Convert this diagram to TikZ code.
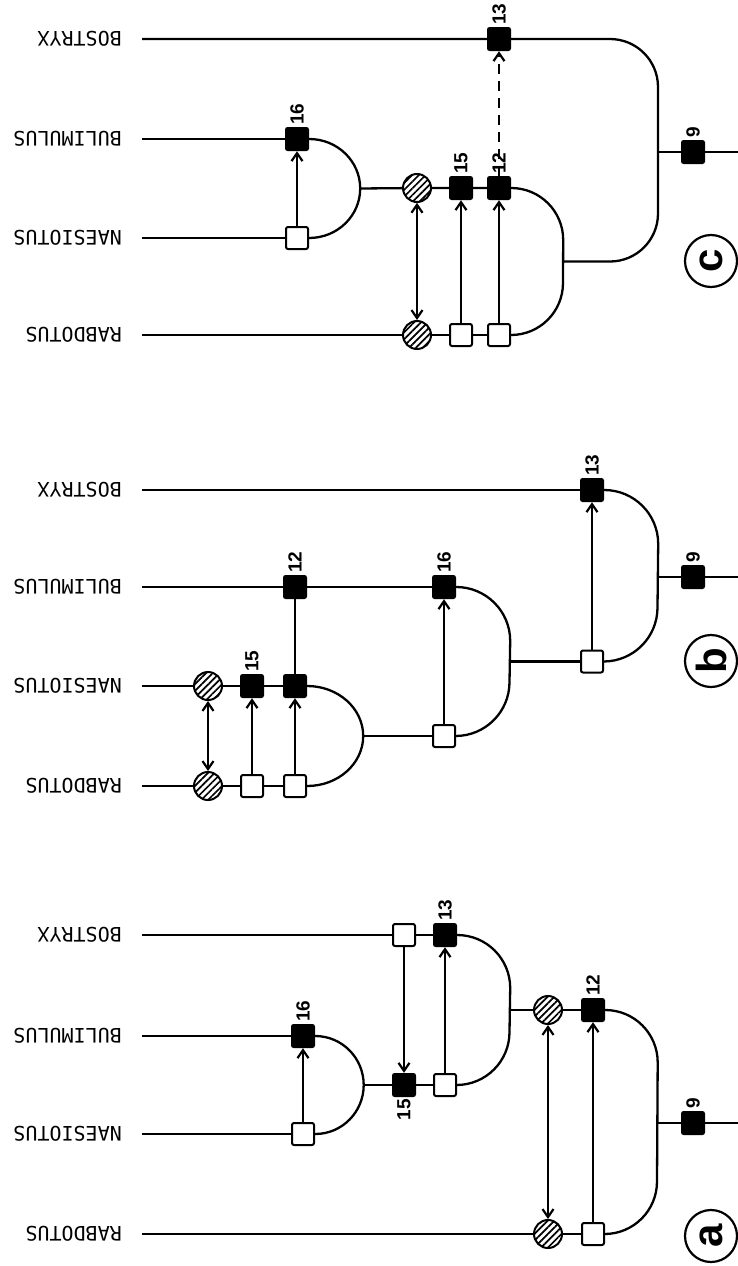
\documentclass[tikz,border=0pt]{standalone}
\usepackage{fontspec}
\newfontfamily\taxfont{DejaVu Sans Mono}
\newfontfamily\numfont{Liberation Sans}
\usetikzlibrary{arrows.meta,patterns.meta}
\begin{document}
\begin{tikzpicture}[x=1pt,y=-1pt,
  ln/.style={line width=2.3pt},
  tip/.tip={Straight Barb[length=8pt,width=11pt,line width=2.2pt]},
  arr/.style={line width=2.2pt,-tip},
  darr/.style={line width=2.2pt,tip-tip},
  dasharr/.style={arr,dash pattern=on 10pt off 7pt},
  fsq/.style={rectangle,fill=black,minimum size=24pt,inner sep=0pt,rounded corners=2.5pt},
  osq/.style={rectangle,draw=black,fill=white,line width=2pt,minimum size=22pt,inner sep=0pt,rounded corners=2pt},
  hat/.style={circle,draw=black,line width=2pt,minimum size=28pt,inner sep=0pt,
    preaction={fill=white},pattern={Lines[angle=45,distance=4.8pt,line width=1.7pt]}},
  tax/.style={rotate=180,anchor=west,inner sep=0pt,font=\taxfont\fontsize{20}{20}\selectfont},
  num/.style={rotate=90,anchor=west,inner sep=0pt,font=\numfont\bfseries\fontsize{19}{19}\selectfont},
  numb/.style={num,anchor=east},
  letter/.style={circle,draw=black,line width=2.2pt,minimum size=52pt,inner sep=0pt,rotate=90,
    font=\numfont\bfseries\fontsize{42}{42}\selectfont}
]
\useasboundingbox (0,0) rectangle (738,1266);
\fill[white] (0,0) rectangle (738,1266);

% ================= panel c =================
\node[tax] (cLB) at (122,39) {BOSTRYX};
\node[tax] (cLU) at (122,139) {BULIMULUS};
\node[tax] (cLN) at (122,238) {NAESIOTUS};
\node[tax] (cLR) at (122,335) {RABDOTUS};
\coordinate (cB0) at (142,39);
\coordinate (cU0) at (142,139);
\coordinate (cN0) at (142,238);
\coordinate (cR0) at (142,335);

\node[fsq] (cB13) at (499,39) {};
\node[fsq] (c16) at (297,139) {};
\node[osq] (cNo) at (297,238) {};
\node[hat] (ch1) at (417,188) {};
\node[fsq] (c15) at (461,188) {};
\node[fsq] (c12) at (499,188) {};
\node[hat] (cRh) at (417,335) {};
\node[osq] (cRo1) at (461,335) {};
\node[osq] (cRo2) at (499,335) {};
\node[fsq] (c9) at (693,152) {};
\coordinate (cj1) at (359.5,188.5);
\coordinate (cj2) at (562.5,261.5);
\coordinate (cj3) at (658,152);
\coordinate (cE) at (738,152);

\draw[ln] (cU0) -- (c16);
\draw[ln] (cN0) -- (cNo);
\draw[ln] (c16.east) arc[start angle=-90,end angle=90,x radius=51,y radius=49.5] -- (cNo.east);
\draw[ln] (cj1) -- (ch1) -- (c15) -- (c12);
\draw[ln] (cR0) -- (cRh) -- (cRo1) -- (cRo2);
\draw[ln] (c12.east) arc[start angle=-90,end angle=0,radius=52] -- (563,283) arc[start angle=0,end angle=90,radius=52] -- (cRo2.east);
\draw[ln] (cB0) -- (cB13) -- (610,39) arc[start angle=-90,end angle=0,radius=48] -- (658,213.5) arc[start angle=0,end angle=90,radius=48] -- (cj2);
\draw[ln] (cj3) -- (c9) -- (cE);

\draw[arr] (cNo) -- (c16);
\draw[darr] (ch1) -- (cRh);
\draw[arr] (cRo1) -- (c15);
\draw[arr] (cRo2) -- (c12);
\draw[dasharr] (c12) -- (cB13);

\node[num] (tc13) at (499,25) {13};
\node[num] (tc16) at (297,125) {16};
\node[num] (tc15) at (461,174) {15};
\node[num] (tc12) at (499,174) {12};
\node[num] (tc9) at (693,138) {9};
\node[letter] (lc) at (711,261) {c};

% ================= panel b =================
\node[tax] (bLB) at (122,490) {BOSTRYX};
\node[tax] (bLU) at (122,587) {BULIMULUS};
\node[tax] (bLN) at (122,686) {NAESIOTUS};
\node[tax] (bLR) at (122,786) {RABDOTUS};
\coordinate (bB0) at (142,490);
\coordinate (bU0) at (142,587);
\coordinate (bN0) at (142,686);
\coordinate (bR0) at (142,786);

\node[fsq] (b12) at (295,587) {};
\node[fsq] (b16) at (444,587) {};
\node[hat] (bNh) at (208,686) {};
\node[fsq] (b15) at (252,686) {};
\node[fsq] (bNf) at (295,686) {};
\node[hat] (bRh) at (208,786) {};
\node[osq] (bRo1) at (252,786) {};
\node[osq] (bRo2) at (295,786) {};
\node[osq] (bo) at (444,736) {};
\node[fsq] (b13) at (592,490) {};
\node[osq] (bo2) at (592,661.5) {};
\node[fsq] (b9) at (693,577) {};
\coordinate (bj1) at (361.5,736);
\coordinate (bj2) at (509.5,661.5);
\coordinate (bj3) at (657.5,577);
\coordinate (bE) at (738,577);

\draw[ln] (bU0) -- (b12) -- (b16);
\draw[ln] (bN0) -- (bNh) -- (b15) -- (bNf);
\draw[ln] (bR0) -- (bRh) -- (bRo1) -- (bRo2);
\draw[ln] (bNf.east) arc[start angle=-90,end angle=90,x radius=56,y radius=50] -- (bRo2.east);
\draw[ln] (bj1) -- (bo);
\draw[ln] (b16.east) arc[start angle=-90,end angle=0,radius=54] -- (509.5,682) arc[start angle=0,end angle=90,radius=54] -- (bo.east);
\draw[ln] (bj2) -- (bo2);
\draw[ln] (bB0) -- (b13);
\draw[ln] (b13.east) arc[start angle=-90,end angle=0,radius=54] -- (657.5,607.5) arc[start angle=0,end angle=90,radius=54] -- (bo2.east);
\draw[ln] (bj3) -- (b9) -- (bE);

\draw[darr] (bNh) -- (bRh);
\draw[arr] (bRo1) -- (b15);
\draw[arr] (bRo2) -- (bNf);
\draw[ln] (bNf) -- (b12);
\draw[arr] (bo) -- (b16);
\draw[arr] (bo2) -- (b13);

\node[num] (tb12) at (295,573) {12};
\node[num] (tb16) at (444,573) {16};
\node[num] (tb15) at (252,672) {15};
\node[num] (tb13) at (592,476) {13};
\node[num] (tb9) at (693,563) {9};
\node[letter] (lb) at (711,661) {b};

% ================= panel a =================
\node[tax] (aLB) at (122,935) {BOSTRYX};
\node[tax] (aLU) at (122,1036) {BULIMULUS};
\node[tax] (aLN) at (122,1134) {NAESIOTUS};
\node[tax] (aLR) at (122,1234) {RABDOTUS};
\coordinate (aB0) at (142,935);
\coordinate (aU0) at (142,1036);
\coordinate (aN0) at (142,1134);
\coordinate (aR0) at (142,1234);

\node[fsq] (a16) at (303,1036) {};
\node[osq] (aNo) at (303,1134) {};
\node[fsq] (a15) at (404,1085) {};
\node[osq] (ao) at (445,1085) {};
\node[osq] (aBo) at (404,935) {};
\node[fsq] (a13) at (445,935) {};
\node[hat] (ah1) at (548,1010) {};
\node[fsq] (a12) at (593,1010) {};
\node[hat] (aRh) at (548,1234) {};
\node[osq] (aRo) at (593,1234) {};
\node[fsq] (a9) at (693,1123) {};
\coordinate (aj1) at (363,1085);
\coordinate (aj2) at (509.5,1010);
\coordinate (aj3) at (657,1123);
\coordinate (aE) at (738,1123);

\draw[ln] (aU0) -- (a16);
\draw[ln] (aN0) -- (aNo);
\draw[ln] (a16.east) arc[start angle=-90,end angle=90,x radius=48.5,y radius=49] -- (aNo.east);
\draw[ln] (aj1) -- (a15) -- (ao);
\draw[ln] (aB0) -- (aBo) -- (a13);
\draw[ln] (a13.east) arc[start angle=-90,end angle=0,radius=53] -- (509.5,1032) arc[start angle=0,end angle=90,radius=53] -- (ao.east);
\draw[ln] (aj2) -- (ah1) -- (a12);
\draw[ln] (aR0) -- (aRh) -- (aRo);
\draw[ln] (a12.east) arc[start angle=-90,end angle=0,radius=52.5] -- (657,1181.5) arc[start angle=0,end angle=90,radius=52.5] -- (aRo.east);
\draw[ln] (aj3) -- (a9) -- (aE);

\draw[arr] (aNo) -- (a16);
\draw[arr] (aBo) -- (a15);
\draw[arr] (ao) -- (a13);
\draw[darr] (ah1) -- (aRh);
\draw[arr] (aRo) -- (a12);

\node[num] (ta16) at (303,1022) {16};
\node[num] (ta13) at (445,921) {13};
\node[numb] (ta15) at (404,1099) {15};
\node[num] (ta12) at (593,996) {12};
\node[num] (ta9) at (693,1109) {9};
\node[letter] (la) at (711,1236) {a};
\end{tikzpicture}
\end{document}
